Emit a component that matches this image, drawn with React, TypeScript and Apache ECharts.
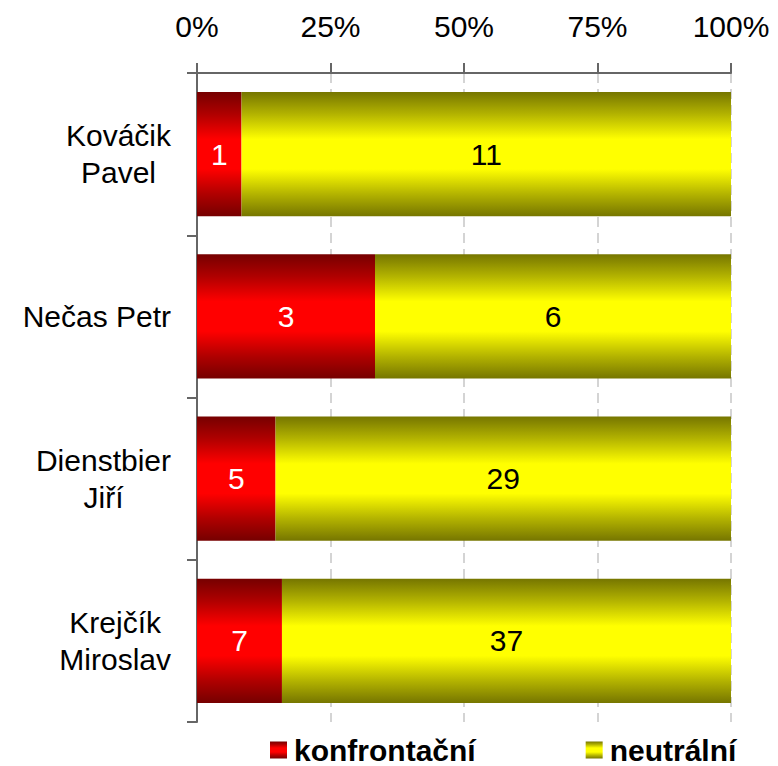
import React, { useEffect, useRef } from "react";
import * as echarts from "echarts";

const categories = ["Kováčik\nPavel", "Nečas Petr", "Dienstbier\nJiří", "Krejčík\nMiroslav"];
const seriesNames = ["konfrontační", "neutrální"];
const konfrontacni = [1, 3, 5, 7];
const neutralni = [11, 6, 29, 37];
const tickValues = [0, 25, 50, 75, 100];

const FONT = "'Liberation Sans', Arial, sans-serif";

function vGrad(dark: string, mid: string, bright: string) {
  return new echarts.graphic.LinearGradient(0, 0, 0, 1, [
    { offset: 0, color: dark },
    { offset: 0.18, color: mid },
    { offset: 0.38, color: bright },
    { offset: 0.62, color: bright },
    { offset: 0.82, color: mid },
    { offset: 1, color: dark },
  ]);
}

export default function App() {
  const ref = useRef<HTMLDivElement>(null);
  useEffect(() => {
    if (!ref.current) return;
    const chart = echarts.init(ref.current, null, { renderer: "svg" });
    const totals = konfrontacni.map((v, i) => v + neutralni[i]);
    const pctK = konfrontacni.map((v, i) => (v / totals[i]) * 100);
    const pctN = neutralni.map((v, i) => (v / totals[i]) * 100);
    const counts = [konfrontacni, neutralni];

    const redGrad = vGrad("#760000", "#b00000", "#ff0000");
    const yelGrad = vGrad("#767600", "#b4b400", "#ffff00");

    chart.setOption({
      animation: false,
      textStyle: { fontFamily: FONT },
      grid: { left: 197, right: 47, top: 73, bottom: 44, containLabel: false },
      legend: {
        data: seriesNames,
        left: 265,
        top: 730,
        icon: "rect",
        itemWidth: 17,
        itemHeight: 17,
        itemGap: 110,
        textStyle: {
          fontSize: 30,
          lineHeight: 30,
          fontWeight: "bold",
          color: "#000",
          fontFamily: FONT,
          padding: [0, 0, 0, 2],
        },
      },
      xAxis: {
        type: "value",
        position: "top",
        min: tickValues[0],
        max: tickValues[tickValues.length - 1],
        interval: tickValues[1] - tickValues[0],
        axisLine: { show: true, lineStyle: { color: "#666", width: 2 } },
        axisTick: { show: true, length: 10, lineStyle: { color: "#666", width: 2 } },
        axisLabel: {
          formatter: "{value}%",
          fontSize: 30,
          color: "#000",
          fontFamily: FONT,
          margin: 32,
        },
        splitLine: { show: true, lineStyle: { color: "#d4d4d4", width: 2, type: [10, 6] } },
      },
      yAxis: {
        type: "category",
        data: categories,
        inverse: true,
        axisLine: { show: true, lineStyle: { color: "#666", width: 2 } },
        axisTick: { show: true, length: 10, lineStyle: { color: "#666", width: 2 } },
        axisLabel: {
          align: "right",
          margin: 26,
          formatter: (v: string) => v.split("\n").map((l) => `{c|${l}}`).join("\n"),
          rich: {
            c: { fontSize: 30, color: "#000", fontFamily: FONT, align: "center", lineHeight: 37 },
          },
        },
        splitLine: { show: false },
      },
      series: [
        {
          name: seriesNames[0],
          type: "bar",
          stack: "total",
          data: pctK,
          barCategoryGap: "23.5%",
          itemStyle: { color: redGrad },
          label: {
            show: true,
            position: "inside",
            fontSize: 30,
            color: "#fff",
            fontFamily: FONT,
            formatter: (p: any) => String(counts[0][p.dataIndex]),
          },
        },
        {
          name: seriesNames[1],
          type: "bar",
          stack: "total",
          data: pctN,
          barCategoryGap: "23.5%",
          itemStyle: { color: yelGrad },
          label: {
            show: true,
            position: "inside",
            fontSize: 30,
            color: "#000",
            fontFamily: FONT,
            formatter: (p: any) => String(counts[1][p.dataIndex]),
          },
        },
      ],
    });
    return () => chart.dispose();
  }, []);
  return <div ref={ref} style={{ width: 778, height: 766, position: "absolute", left: 0, top: 0 }} />;
}
